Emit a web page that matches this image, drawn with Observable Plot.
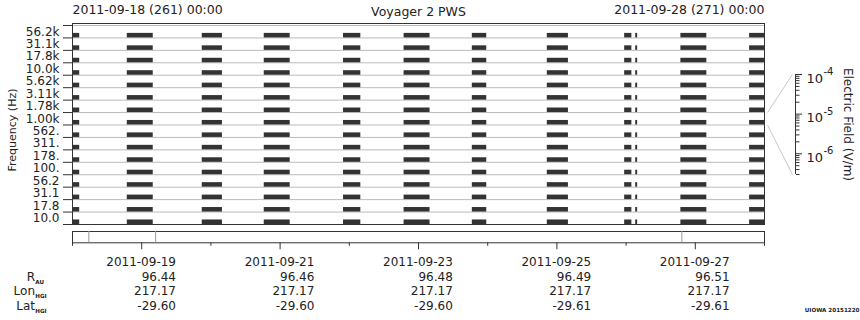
<!DOCTYPE html>
<html><head><meta charset="utf-8">
<script src="https://cdn.jsdelivr.net/npm/d3@7"></script>
<script src="https://cdn.jsdelivr.net/npm/@observablehq/plot@0.6"></script>
<style>
body{margin:0;background:#fff;}
#wrap{position:relative;width:860px;height:320px;font-family:"DejaVu Sans";}
#wrap svg{position:absolute;top:0;left:0;overflow:visible;}
</style></head><body><div id="wrap"></div>
<script>
// ---- data ----
const channelLabels = ["56.2k","31.1k","17.8k","10.0k","5.62k","3.11k","1.78k","1.00k","562.","311.","178.","100.","56.2","31.1","17.8","10.0"];
const blockStarts = ["2011-09-18T00:00","2011-09-18T19:00","2011-09-19T21:00","2011-09-20T18:30","2011-09-21T22:00","2011-09-22T19:00","2011-09-23T18:40","2011-09-24T20:40","2011-09-25T23:30","2011-09-26T03:20","2011-09-26T19:00","2011-09-27T18:50"];
const blockEnds   = ["2011-09-18T02:30","2011-09-19T04:00","2011-09-20T04:00","2011-09-21T03:30","2011-09-22T04:00","2011-09-23T04:00","2011-09-23T23:40","2011-09-25T04:00","2011-09-26T02:00","2011-09-26T04:00","2011-09-27T04:00","2011-09-28T00:00"];
const stripMarkers = ["2011-09-18T05:40","2011-09-19T04:50","2011-09-26T19:20"];
const labelDates = ["2011-09-19","2011-09-21","2011-09-23","2011-09-25","2011-09-27"];
const rAU = ["96.44","96.46","96.48","96.49","96.51"];
const lonHGI = ["217.17","217.17","217.17","217.17","217.17"];
const latHGI = ["-29.60","-29.60","-29.60","-29.61","-29.61"];
const rowNames = ["R","Lon","Lat"];
const rowSubs = ["AU","HGI","HGI"];
const fieldTicks = [1e-4, 1e-5, 1e-6];
const fieldTickBase = "10";
const fieldTickExponents = ["-4","-5","-6"];
const fieldDomain = [3e-7, 1e-4];
const headerLeft = "2011-09-18 (261) 00:00";
const headerRight = "2011-09-28 (271) 00:00";
const title = "Voyager 2 PWS";

// ---- helpers ----
const t = s => new Date(s.length === 10 ? s + "T00:00Z" : s + "Z");
const start = t("2011-09-18"), end = t("2011-09-28");
const boundaries = d3.range(channelLabels.length + 1);
const centers = d3.range(channelLabels.length).map(i => i + 0.5);
const cells = [];
blockStarts.forEach((s, j) => channelLabels.forEach((c, i) => cells.push({x1: t(s), x2: t(blockEnds[j]), ch: i})));
const days = d3.utcDay.range(start, d3.utcDay.offset(end, 1));
const majorDays = days.filter(d => d.getUTCDate() % 2 === 1);
const minorDays = days.filter(d => d.getUTCDate() % 2 === 0);
const minorField = [];
[1e-5, 1e-6, 1e-7].forEach(p => d3.range(2, 10).forEach(k => { const v = k * p; if (v >= fieldDomain[0] * 0.999 && v < 1e-4) minorField.push(v); }));

const baseStyle = {fontFamily: "DejaVu Sans", fontSize: "12px", color: "#222", overflow: "visible"};
const W = 860, H = 320;
const M = {lineAnchor: "middle"};

// ---- main spectrogram panel ----
const mainPlot = Plot.plot({
  width: W, height: H,
  marginTop: 23, marginBottom: 96, marginLeft: 72, marginRight: 96,
  style: {...baseStyle, background: "white"},
  x: {type: "utc", domain: [start, end], axis: null},
  y: {domain: [channelLabels.length, -0.16]},
  marks: [
    Plot.ruleY(boundaries, {stroke: "#bbb"}),
    Plot.rect(cells, {x1: "x1", x2: "x2", y1: "ch", y2: d => d.ch + 1, insetTop: 7.9, fill: "#333"}),
    Plot.frame({stroke: "#333"}),
    Plot.axisY(boundaries, {tickSize: 9, tickFormat: () => "", label: null, stroke: "#333"}),
    Plot.axisY(centers, {tickSize: 0, tickPadding: 13, tickFormat: v => channelLabels[Math.floor(v)], label: null}),
    Plot.text(["Frequency (Hz)"], {...M, frameAnchor: "left", textAnchor: "middle", dx: -60, dy: 6, rotate: -90, fontSize: 11}),
    Plot.text([headerLeft], {...M, frameAnchor: "top-left", textAnchor: "start", dy: -14, fontSize: 12.5}),
    Plot.text([title], {...M, frameAnchor: "top", textAnchor: "middle", dy: -12, fontSize: 12.5}),
    Plot.text([headerRight], {...M, frameAnchor: "top-right", textAnchor: "end", dy: -14, fontSize: 12.5})
  ]
});

// ---- bottom strip, time ticks and ephemeris table ----
const rowDy = [34.4, 48.4, 63.4];
const rowVals = [rAU, lonHGI, latHGI];
const stripMarks = [
  Plot.frame({stroke: "#333"}),
  Plot.ruleX(stripMarkers.map(t), {stroke: "#999"}),
  Plot.axisX(majorDays, {tickSize: 7, tickFormat: () => "", label: null, stroke: "#333"}),
  Plot.axisX(minorDays, {tickSize: 3.5, tickFormat: () => "", label: null, stroke: "#333"}),
  Plot.text(labelDates, {...M, x: t, frameAnchor: "bottom", dy: 19.7, dx: 34.3, textAnchor: "end", fontSize: 12}),
  Plot.text(["UIOWA 20151220"], {...M, frameAnchor: "bottom-right", dx: 95, dy: 67.7, textAnchor: "end", fontSize: 5.6, fontWeight: "bold"})
];
rowVals.forEach((vals, r) => {
  stripMarks.push(Plot.text(vals, {...M, x: (d, i) => t(labelDates[i]), frameAnchor: "bottom", dy: rowDy[r], dx: 34.3, textAnchor: "end", fontSize: 12}));
  stripMarks.push(Plot.text([rowNames[r]], {...M, frameAnchor: "bottom-left", dx: -37.5, dy: rowDy[r], textAnchor: "end", fontSize: 12}));
  stripMarks.push(Plot.text([rowSubs[r]], {...M, frameAnchor: "bottom-left", dx: -37.2, dy: rowDy[r] + 4.6, textAnchor: "start", fontSize: 5.6, fontWeight: "bold"}));
});
const stripPlot = Plot.plot({
  width: W, height: H,
  marginTop: 231, marginBottom: 77.7, marginLeft: 72, marginRight: 96,
  style: {...baseStyle, background: "transparent"},
  x: {type: "utc", domain: [start, end]},
  marks: stripMarks
});

// ---- electric field colour-bar axis ----
const cbTop = 74, cbBottom = 174;
const cbScale = Plot.scale({y: {type: "log", domain: fieldDomain, range: [cbBottom, cbTop]}});
const mainY = mainPlot.scale("y");
const connectors = [
  {x1: 0, x2: 0.89, y1: cbScale.invert(mainY.apply(7)), y2: fieldDomain[1]},
  {x1: 0, x2: 0.89, y1: cbScale.invert(mainY.apply(8)), y2: fieldDomain[0]}
];
const cbPlot = Plot.plot({
  width: 96, height: H,
  marginLeft: 3, marginRight: 65, marginTop: cbTop, marginBottom: H - cbBottom,
  style: {...baseStyle, background: "transparent"},
  x: {domain: [0, 1], axis: null},
  y: {type: "log", domain: fieldDomain},
  marks: [
    Plot.link(connectors, {x1: "x1", x2: "x2", y1: "y1", y2: "y2", stroke: "#c8c8c8"}),
    Plot.ruleX([1], {stroke: "#333"}),
    Plot.axisY(fieldTicks, {anchor: "right", tickSize: 6, tickFormat: () => "", label: null, stroke: "#333"}),
    Plot.axisY(minorField, {anchor: "right", tickSize: 3.5, tickFormat: () => "", label: null, stroke: "#333"}),
    Plot.text(fieldTicks, {...M, y: d => d, text: () => fieldTickBase, frameAnchor: "right", dx: 11, dy: 4, textAnchor: "start", fontSize: 13}),
    Plot.text(fieldTicks, {...M, y: d => d, text: (d, i) => fieldTickExponents[i], frameAnchor: "right", dx: 28, dy: -2.5, textAnchor: "start", fontSize: 10}),
    Plot.text(["Electric Field (V/m)"], {...M, frameAnchor: "right", textAnchor: "middle", dx: 52, rotate: 90, fontSize: 12})
  ]
});
cbPlot.style.left = "764px";

const wrap = document.getElementById("wrap");
wrap.append(mainPlot, stripPlot, cbPlot);
</script></body></html>
